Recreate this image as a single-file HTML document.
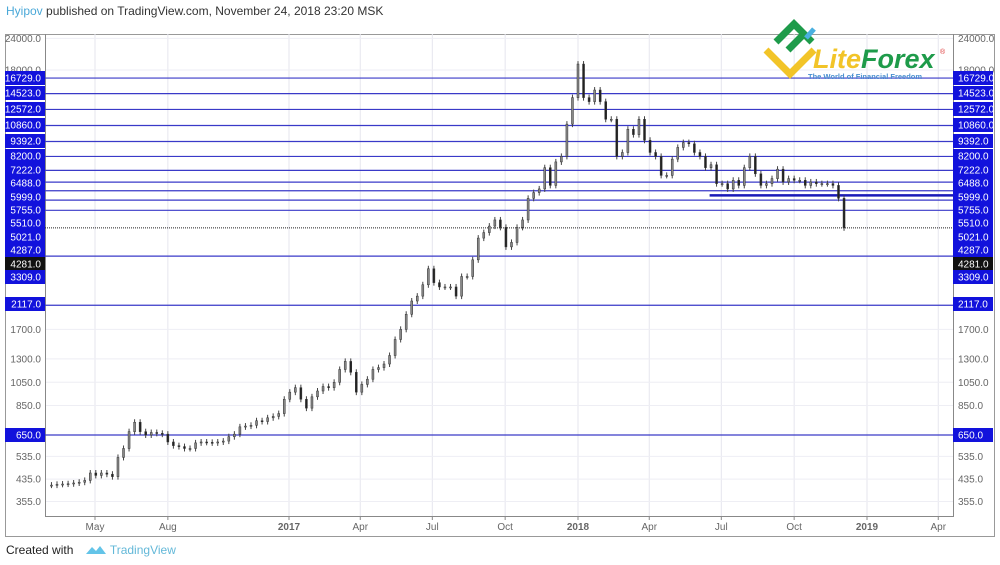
<!DOCTYPE html>
<html><head><meta charset="utf-8"><style>
body{margin:0;width:1000px;height:565px;background:#fff;font-family:"Liberation Sans",sans-serif;overflow:hidden;position:relative}
#hdr{position:absolute;left:6px;top:4px;font-size:12px;color:#333}
#hdr span{color:#4aa8d8}
#ftr{position:absolute;left:6px;top:543px;font-size:12px;color:#222}
</style></head><body>
<div id="hdr"><span>Hyipov</span> published on TradingView.com, November 24, 2018 23:20 MSK</div>
<svg id="chart" width="1000" height="565" style="position:absolute;left:0;top:0"></svg>
<div id="ftr">Created with <svg width="22" height="12" style="vertical-align:-2px;margin-left:8px"><path d="M1 10 L7 3 L11 7 L15 2 L21 10 Z" fill="#63c4e8"/></svg> <span style="color:#63b8d8">TradingView</span></div>
<script>
const startDate = "2016-03-07";
const closes = [412,415,416,417,420,423,430,460,450,460,455,445,530,575,670,730,670,650,665,660,655,610,590,585,575,575,605,610,608,605,610,615,640,655,700,705,710,740,735,760,770,790,900,960,1000,900,830,920,970,1010,1000,1050,1180,1270,1150,960,1030,1080,1180,1200,1240,1340,1550,1700,1950,2200,2300,2550,2950,2600,2500,2500,2500,2300,2750,2750,3200,3900,4100,4350,4600,4300,3600,3750,4300,4600,5600,5900,6100,7400,6300,7800,8200,11000,14000,19000,14000,13500,15000,13500,11500,11500,8200,8500,10500,10000,11500,9500,8500,8200,6900,6900,8000,8900,9300,9200,8500,8200,7400,7600,6400,6400,6100,6600,6300,7400,8200,7000,6300,6400,6700,7300,6500,6700,6600,6600,6300,6500,6400,6400,6400,6300,5600,4281];
const levels = [16729,14523,12572,10860,9392,8200,7222,6488,5999,5510,5021,3309,2117,650];
const currentPrice = 4281;
const zoneLevel = 5755;
const zoneStart = "2018-06-20";
const xTickLabels = ["May","Aug","2017","Apr","Jul","Oct","2018","Apr","Jul","Oct","2019","Apr"];
const xTickDates = ["2016-05-01","2016-08-01","2017-01-01","2017-04-01","2017-07-01","2017-10-01","2018-01-01","2018-04-01","2018-07-01","2018-10-01","2019-01-01","2019-04-01"];
const yTicks = [24000,18000,1700,1300,1050,850,535,435,355];
const leftLabels = ["16729.0","14523.0","12572.0","10860.0","9392.0","8200.0","7222.0","6488.0","5999.0","5755.0","5510.0","5021.0","4287.0","4281.0","3309.0","2117.0","650.0"];
const leftLabelY = [78,93,109,125,141,156,170,183,197,210,223,237,250,264,277,304,435];

const NS="http://www.w3.org/2000/svg";
const svg=document.getElementById('chart');
function mk(t,a,p){const e=document.createElementNS(NS,t);for(const k in a)e.setAttribute(k,a[k]);(p||svg).appendChild(e);return e;}
const L=45,R=953,T=34,B=516;
const d0=Date.UTC(2017,0,1);
function xs(ds){const d=(Date.parse(ds)-d0)/86400000;return 286+d*(289/365);}
function ys(p){return 435-(Math.log(p)-Math.log(650))*109.9;}
let e=mk('rect',{x:5.5,y:34.5,width:989,height:502,fill:'none',stroke:'#999'});

xTickDates.forEach((d,i)=>{const x=xs(d)+3;
 let g=mk('line',{x1:x,x2:x,y1:T,y2:B,stroke:'#e6e6ee'});
 
 mk('line',{x1:x,x2:x,y1:B,y2:B+4,stroke:'#888'});
 let t=mk('text',{x:x,y:530,'text-anchor':'middle','font-size':10,fill:'#666','font-weight':/^\d/.test(xTickLabels[i])?'bold':'normal'});
 t.textContent=xTickLabels[i];
 
});
yTicks.forEach(v=>{const y=ys(v);
 mk('line',{x1:L,x2:R,y1:y,y2:y,stroke:'#eeeef4'});
 [[41,'end'],[958,'start']].forEach(([x,a])=>{let t=mk('text',{x:x,y:y+3.5,'text-anchor':a,'font-size':10,fill:'#666'});t.textContent=v.toFixed(1);
 });
});
e=mk('polyline',{points:`${L+0.5},${T} ${L+0.5},${B+0.5} ${R+0.5},${B+0.5} ${R+0.5},${T}`,fill:'none',stroke:'#888'});

levels.forEach(v=>{const y=ys(v);
 let l=mk('line',{x1:L,x2:R,y1:y,y2:y,stroke:'#3a3ac8','stroke-width':1.2});
 });
e=mk('line',{x1:xs(zoneStart),x2:R,y1:ys(zoneLevel),y2:ys(zoneLevel),stroke:'#1a1ab8','stroke-width':2.5});

e=mk('line',{x1:L,x2:R,y1:ys(currentPrice),y2:ys(currentPrice),stroke:'#222','stroke-dasharray':'1 1'});

const base=Date.parse(startDate);
closes.forEach((c,i)=>{
 const o=i?closes[i-1]:c;
 const ds=new Date(base+i*7*86400000).toISOString().slice(0,10);
 const x=xs(ds)+3;
 const y1=ys(Math.max(o,c)),y2=ys(Math.min(o,c));
 let w=mk('line',{x1:x,x2:x,y1:y1-3,y2:y2+3,stroke:'#444'});
 
 let b=mk('rect',{x:x-1,y:y1,width:2,height:Math.max(1,y2-y1),fill:c<o?'#222':'#888',stroke:'#333','stroke-width':0.5});
 
});
leftLabels.forEach((s,i)=>{const y=leftLabelY[i];const bg=s==='4281.0'?'#111':'#1212dc';
 [[5,45],[953,993]].forEach(([x0,x1])=>{
  let r=mk('rect',{x:x0,y:y-7,width:x1-x0,height:14,fill:bg});
  
  let t=mk('text',{x:x0===5?41:958,y:y+3.5,'text-anchor':x0===5?'end':'start','font-size':10,fill:'#fff'});t.textContent=s;
  
 });
});
const g=mk('g',{});

mk('path',{d:'M766 50 L790 74 L814 50',fill:'none',stroke:'#f2c428','stroke-width':7},g);
mk('path',{d:'M776 42 L794 24 L812 42 M788 50 L802 36',fill:'none',stroke:'#1e9b4a','stroke-width':7},g);
mk('line',{x1:806,y1:38,x2:814,y2:29,stroke:'#4ab0e0','stroke-width':5},g);
let t=mk('text',{x:813,y:68,'font-size':27,'font-weight':'bold','font-style':'italic',fill:'#f2c428'},g);
t.innerHTML='Lite<tspan fill="#1e9b4a">Forex</tspan>';
t=mk('text',{x:940,y:54,'font-size':7,fill:'#d33'},g);t.textContent='®';
t=mk('text',{x:808,y:79,'font-size':7.5,'font-weight':'bold',fill:'#4a8fd0'},g);t.textContent='The World of Financial Freedom';
</script>
</body></html>
